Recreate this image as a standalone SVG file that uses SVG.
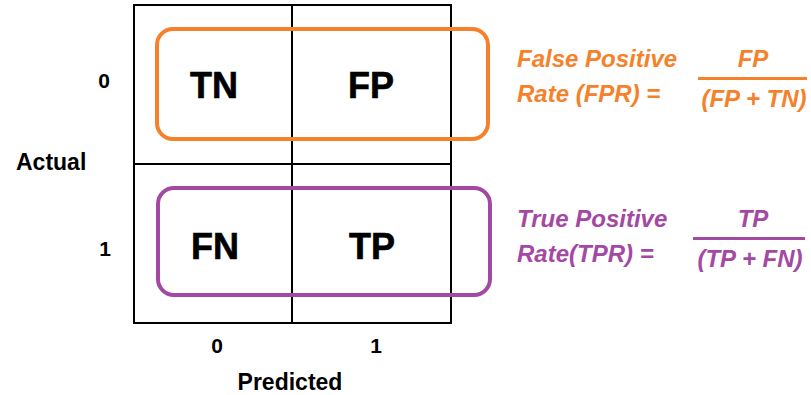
<svg xmlns="http://www.w3.org/2000/svg" width="811" height="395" viewBox="0 0 811 395">
  <style>
    .grid { fill: none; stroke: #000; stroke-width: 2; }
    .cell { font-family: "Liberation Sans", Arial, sans-serif; font-weight: bold; font-size: 36px; fill: #000; text-anchor: middle; stroke: #000; stroke-width: 0.6; }
    .axis { font-family: "Liberation Sans", Arial, sans-serif; font-weight: bold; font-size: 21px; fill: #000; text-anchor: middle; }
    .title { font-family: "Liberation Sans", Arial, sans-serif; font-weight: bold; font-size: 23px; fill: #000; }
    .frm { font-family: "Liberation Sans", Arial, sans-serif; font-weight: bold; font-style: italic; font-size: 24px; }
    .orange { fill: #F5822B; }
    .purple { fill: #A349A4; }
  </style>
  <rect width="811" height="395" fill="#fff"/>

  <!-- confusion matrix grid -->
  <g id="matrix">
    <rect class="grid" x="134" y="5" width="317" height="318"/>
    <line class="grid" x1="292" y1="5" x2="292" y2="323"/>
    <line class="grid" x1="134" y1="164" x2="451" y2="164"/>
  </g>

  <g id="cell-tn"><text class="cell" x="214" y="98">TN</text></g>
  <g id="cell-fp"><text class="cell" x="371" y="98">FP</text></g>
  <g id="cell-fn"><text class="cell" x="215" y="259">FN</text></g>
  <g id="cell-tp"><text class="cell" x="372" y="259">TP</text></g>

  <!-- row highlights -->
  <g id="highlights">
    <rect x="157" y="29" width="331" height="110" rx="16" fill="none" stroke="#F5822B" stroke-width="4"/>
    <rect x="158" y="188" width="332" height="107" rx="16" fill="none" stroke="#A349A4" stroke-width="4"/>
  </g>

  <!-- axis labels -->
  <g id="axis-actual">
    <text class="axis" x="104" y="88">0</text>
    <text class="title" x="16" y="170">Actual</text>
    <text class="axis" x="105" y="256">1</text>
  </g>
  <g id="axis-predicted">
    <text class="axis" x="217" y="353">0</text>
    <text class="axis" x="376" y="353">1</text>
    <text class="title" x="290" y="390" text-anchor="middle">Predicted</text>
  </g>

  <!-- false positive rate -->
  <g id="fpr" class="orange">
    <text class="frm orange" x="517" y="67">False Positive</text>
    <text class="frm orange" x="517" y="102">Rate (FPR) =</text>
    <text class="frm orange" x="753" y="67" text-anchor="middle">FP</text>
    <rect x="698" y="77" width="109" height="3"/>
    <text class="frm orange" x="754" y="107" text-anchor="middle">(FP + TN)</text>
  </g>

  <!-- true positive rate -->
  <g id="tpr" class="purple">
    <text class="frm purple" x="517" y="227">True Positive</text>
    <text class="frm purple" x="517" y="262">Rate(TPR) =</text>
    <text class="frm purple" x="753" y="227" text-anchor="middle">TP</text>
    <rect x="693" y="237" width="112" height="3"/>
    <text class="frm purple" x="750" y="267" text-anchor="middle">(TP + FN)</text>
  </g>
</svg>
